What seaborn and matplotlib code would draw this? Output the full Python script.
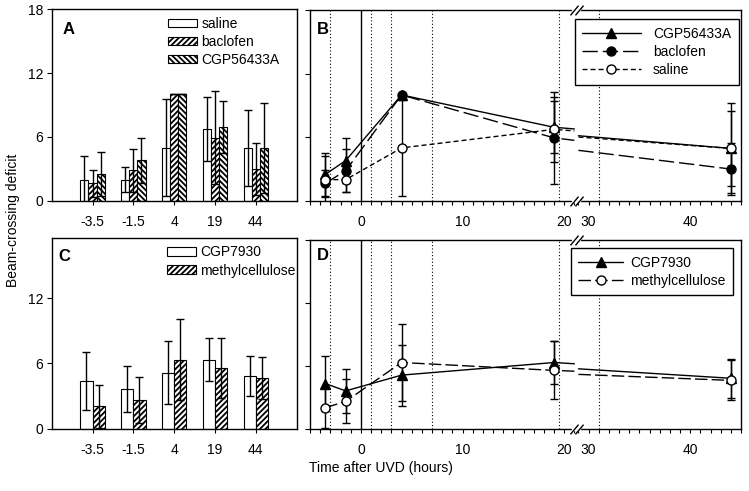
import numpy as np
import pandas as pd
import matplotlib
matplotlib.use("Agg")
import matplotlib.pyplot as plt
from matplotlib.lines import Line2D
import seaborn as sns

sns.set_style("ticks")
plt.rcParams["font.family"] = ["Liberation Sans", "DejaVu Sans"]
plt.rcParams["font.size"] = 10
plt.rcParams["hatch.linewidth"] = 1.3
plt.rcParams["axes.linewidth"] = 1.0
plt.rcParams["axes.edgecolor"] = "black"
plt.rcParams["xtick.color"] = "black"
plt.rcParams["ytick.color"] = "black"
plt.rcParams["text.color"] = "black"

# time points (hours after UVD)
times = [-3.5, -1.5, 4, 19, 44]
time_labels = ["-3.5", "-1.5", "4", "19", "44"]

# experiment 1 (panels A, B): mean and SEM
saline_mean = [2.0, 2.0, 5.0, 6.75, 4.95]
saline_sem = [2.2, 1.15, 4.55, 3.05, 3.55]
baclofen_mean = [1.65, 2.85, 10.0, 5.95, 3.0]
baclofen_sem = [1.25, 2.05, 0.0, 4.35, 2.45]
cgp56433a_mean = [2.5, 3.8, 10.0, 6.95, 4.95]
cgp56433a_sem = [2.05, 2.1, 0.0, 2.45, 4.25]

# experiment 2 (panels C, D)
cgp7930_mean = [4.35, 3.65, 5.15, 6.35, 4.85]
cgp7930_sem = [2.65, 2.1, 2.9, 2.0, 1.85]
methyl_mean = [2.05, 2.65, 6.35, 5.6, 4.65]
methyl_sem = [1.95, 2.1, 3.7, 2.75, 1.9]

# vertical reference lines on the time axis
uvd_time = 0
event_times = [-3, 1, 3, 7, 19.5, 31]

# broken time axis: 21 -> 29 is cut out
brk_lo, brk_hi, brk_gap = 21, 29, 0.4


def to_axis(t):
    t = np.asarray(t, float)
    return np.where(t >= brk_hi, t - (brk_hi - brk_lo) + brk_gap, t)


def split_line(t, y):
    t = np.asarray(t, float)
    y = np.asarray(y, float)
    left = t <= brk_lo
    right = t >= brk_hi
    seg1 = (np.r_[t[left], brk_lo], np.r_[y[left], np.interp(brk_lo, t, y)])
    seg2 = (np.r_[brk_hi, t[right]], np.r_[np.interp(brk_hi, t, y), y[right]])
    return seg1, seg2


def bar_panel(ax, groups, means, sems, hatches, legend_anchor):
    df = pd.DataFrame({
        "time": np.tile(time_labels, len(groups)),
        "group": np.repeat(groups, len(time_labels)),
        "deficit": np.concatenate(means),
    })
    sns.barplot(data=df, x="time", y="deficit", hue="group", order=time_labels,
                hue_order=groups, palette=["white"] * len(groups), saturation=1,
                width=0.6, edgecolor="black", linewidth=0.8, errorbar=None,
                legend=False, ax=ax)
    bars = list(ax.containers)
    for cont, hatch, mean, sem in zip(bars, hatches, means, sems):
        xs = []
        for bar in cont:
            bar.set_hatch(hatch)
            xs.append(bar.get_x() + bar.get_width() / 2)
        ax.errorbar(xs, mean, yerr=sem, fmt="none", ecolor="black",
                    elinewidth=1.0, capsize=2.6, capthick=1.0, zorder=4)
    ax.legend(bars, groups, loc="upper left", bbox_to_anchor=legend_anchor,
              frameon=False, borderpad=0, borderaxespad=0, handlelength=2.1,
              handleheight=0.55, handletextpad=0.3, labelspacing=0.3)
    ax.set_xlim(-1, 5)
    ax.set_xlabel("")
    ax.set_ylabel("")
    ax.tick_params(axis="x", length=3, width=0.8, pad=7)
    ax.tick_params(axis="y", length=3.5, width=0.8, pad=2.5)


def line_panel(ax, series, legend_kw):
    ax.axvline(uvd_time, color="black", lw=1.0, zorder=1)
    for t in event_times:
        ax.axvline(to_axis(t), color="black", lw=0.8, ls=(0, (1, 2)), zorder=1)
    handles = []
    for label, mean, sem, marker, face, dash in series:
        for seg_t, seg_y in split_line(times, mean):
            ax.plot(to_axis(seg_t), seg_y, color="black", lw=1.0,
                    linestyle=dash, zorder=2)
        ax.errorbar(to_axis(times), mean, yerr=sem, fmt="none", ecolor="black",
                    elinewidth=1.0, capsize=3, capthick=1.0, zorder=3)
        ax.plot(to_axis(times), mean, linestyle="none", marker=marker, ms=6.5,
                mfc=face, mec="black", mew=1.0, zorder=4)
        handles.append(Line2D([], [], color="black", lw=1.0, linestyle=dash,
                              marker=marker, ms=6.5, mfc=face, mec="black", mew=1.0))
    leg = ax.legend(handles, [s[0] for s in series], loc="upper right",
                    fancybox=False, edgecolor="black", framealpha=1,
                    borderaxespad=0, **legend_kw)
    leg.get_frame().set_linewidth(1.0)

    major = [0, 10, 20, 30, 40]
    minor = list(range(-5, brk_lo + 1)) + list(range(brk_hi, 46))
    ax.set_xticks(to_axis(major))
    ax.set_xticklabels([str(m) for m in major])
    ax.set_xticks(to_axis(minor), minor=True)
    ax.set_xlim(-5, float(to_axis(45)))
    ax.set_ylim(0, 18)
    ax.set_yticks([0, 6, 12, 18])
    ax.set_yticklabels([])
    ax.tick_params(axis="x", which="both", length=3, width=0.8, pad=7)
    ax.tick_params(axis="y", length=3.5, width=0.8)

    # break marks on top and bottom spines
    xb = brk_lo + brk_gap / 2
    tr = ax.get_xaxis_transform()
    for yy in (0, 1):
        ax.plot([xb - 0.3, xb + 0.3], [yy, yy], color="white", lw=2.5,
                transform=tr, clip_on=False, zorder=5)
        ax.plot([xb - 0.25, xb + 0.25], [yy, yy], linestyle="none",
                marker=[(-1, -1.2), (1, 1.2)], ms=7, mec="black", mew=1.0,
                transform=tr, clip_on=False, zorder=6)


fig = plt.figure(figsize=(7.49, 4.91), dpi=100)
ax_a = fig.add_axes([0.069, 0.591, 0.327, 0.390])
ax_b = fig.add_axes([0.414, 0.591, 0.5754, 0.388])
ax_c = fig.add_axes([0.069, 0.127, 0.327, 0.388])
ax_d = fig.add_axes([0.414, 0.1257, 0.5754, 0.3855])

# Panel A
bar_panel(ax_a, ["saline", "baclofen", "CGP56433A"],
          [saline_mean, baclofen_mean, cgp56433a_mean],
          [saline_sem, baclofen_sem, cgp56433a_sem],
          ["", "//////", "\\\\\\\\\\\\"], (0.475, 0.962))
ax_a.set_ylim(0, 18)
ax_a.set_yticks([0, 6, 12, 18])

# Panel C
bar_panel(ax_c, ["CGP7930", "methylcellulose"],
          [cgp7930_mean, methyl_mean], [cgp7930_sem, methyl_sem],
          ["", "//////"], (0.469, 0.962))
ax_c.set_ylim(0, 17.5)
ax_c.set_yticks([0, 6, 12])

# Panel B
line_panel(ax_b, [
    ("CGP56433A", cgp56433a_mean, cgp56433a_sem, "^", "black", "-"),
    ("baclofen", baclofen_mean, baclofen_sem, "o", "black", (0, (11, 3.6))),
    ("saline", saline_mean, saline_sem, "o", "white", (0, (3.6, 2.2))),
], dict(bbox_to_anchor=(0.995, 0.953), handlelength=4.2, handletextpad=0.9,
        borderpad=0.55, labelspacing=0.3))

# Panel D
line_panel(ax_d, [
    ("CGP7930", cgp7930_mean, cgp7930_sem, "^", "black", "-"),
    ("methylcellulose", methyl_mean, methyl_sem, "o", "white", (0, (9, 3))),
], dict(bbox_to_anchor=(0.981, 0.958), handlelength=3.2, handletextpad=0.5,
        borderpad=0.55, labelspacing=0.3))

for ax, letter, x, y in [(ax_a, "A", 0.046, 0.896), (ax_b, "B", 0.016, 0.9),
                         (ax_c, "C", 0.026, 0.903), (ax_d, "D", 0.016, 0.917)]:
    ax.text(x, y, letter, transform=ax.transAxes, fontsize=12,
            fontweight="bold", ha="left", va="center")

fig.text(0.018, 1 - 220 / 491, "Beam-crossing deficit", rotation=90,
         ha="center", va="center", fontsize=10)
fig.text(309 / 749, 1 - 468 / 491, "Time after UVD (hours)",
         ha="left", va="center", fontsize=10)

fig.savefig("out.png", dpi=100)
